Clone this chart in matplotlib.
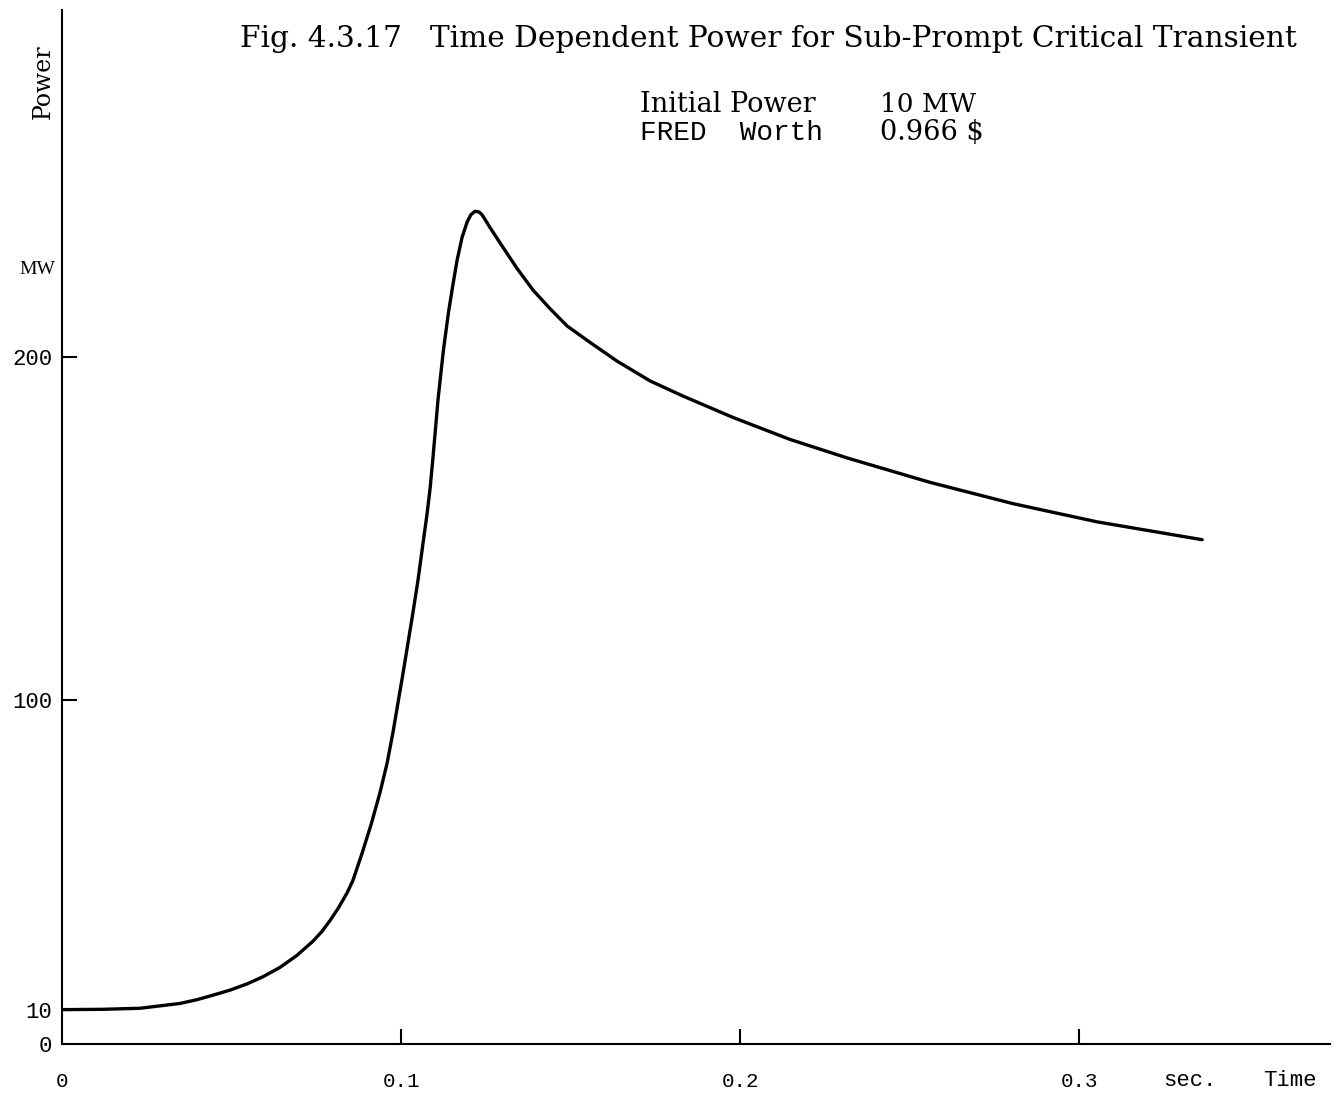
import matplotlib
matplotlib.use("Agg")
import matplotlib.pyplot as plt

# Data (time in s, power in MW)
time_s = [0.0, 0.012, 0.023, 0.0348, 0.0398, 0.0445, 0.0496, 0.0546, 0.0593,
          0.0643, 0.0693, 0.0740, 0.0767, 0.0791, 0.0814, 0.0841, 0.0858,
          0.0885, 0.0912, 0.0938, 0.0959, 0.0976, 0.1006, 0.1035, 0.1050,
          0.1065, 0.1077, 0.1086, 0.1094, 0.1109, 0.1125, 0.1140, 0.1153,
          0.1165, 0.1180, 0.1195, 0.1206, 0.1218, 0.1230, 0.1239, 0.1263,
          0.1292, 0.1342, 0.1389, 0.1440, 0.1490, 0.1558, 0.1637, 0.1735,
          0.1832, 0.1979, 0.2147, 0.2316, 0.2560, 0.2805, 0.3053, 0.3363]
power_mw = [10.0, 10.1, 10.4, 11.8, 12.9, 14.2, 15.7, 17.5, 19.6,
            22.3, 25.8, 29.9, 32.8, 36.0, 39.4, 44.0, 47.6,
            55.5, 64.0, 73.2, 81.8, 90.6, 108.0, 125.5, 135.0,
            145.9, 154.5, 162.0, 170.5, 187.5, 202.0, 213.0, 221.0,
            228.0, 234.8, 239.3, 241.4, 242.4, 242.2, 241.4, 237.6,
            233.2, 225.8, 219.5, 214.0, 209.0, 204.2, 198.8, 193.0,
            188.6, 182.4, 176.0, 170.6, 163.5, 157.3, 152.0, 146.8]

xticks = [0, 0.1, 0.2, 0.3]
xtick_labels = ["0", "0.1", "0.2", "0.3"]
yticks = [0, 10, 100, 200]
ytick_labels = ["0", "10", "100", "200"]

title = "Fig. 4.3.17   Time Dependent Power for Sub-Prompt Critical Transient"

serif = ["DejaVu Serif"]
lserif = ["Liberation Serif", "DejaVu Serif"]
mono = ["Liberation Mono", "DejaVu Sans Mono"]

fig = plt.figure(figsize=(13.44, 10.95), dpi=100)
ax = fig.add_axes([62 / 1344, 1 - 1044 / 1095, (1330 - 62) / 1344, (1044 - 10) / 1095])

ax.plot(time_s, power_mw, color="black", lw=2.4,
        solid_capstyle="round", solid_joinstyle="round")

ax.set_xlim(0, 0.374)
ax.set_ylim(0, 301)

for s in ["top", "right"]:
    ax.spines[s].set_visible(False)
for s in ["left", "bottom"]:
    ax.spines[s].set_linewidth(1.5)

ax.set_xticks(xticks)
ax.set_xticklabels(xtick_labels, fontfamily=mono, fontsize=15)
ax.set_yticks(yticks)
ax.set_yticklabels(ytick_labels, fontfamily=mono, fontsize=16)
ax.tick_params(axis="x", direction="in", length=11, width=1.5, pad=20)
ax.tick_params(axis="y", direction="in", length=11, width=1.5, pad=7)
ax.xaxis.get_major_ticks()[0].tick1line.set_visible(False)
ax.yaxis.get_major_ticks()[0].tick1line.set_visible(False)
ax.yaxis.get_major_ticks()[1].tick1line.set_visible(False)

# Axis annotations
fig.text(1190 / 1344, 1 - 1080 / 1095, "sec.", fontfamily=mono, fontsize=16,
         ha="center", va="center")
fig.text(1290 / 1344, 1 - 1080 / 1095, "Time", fontfamily=mono, fontsize=16,
         ha="center", va="center")
fig.text(43 / 1344, 1 - 82 / 1095, "Power", fontfamily=serif, fontsize=17,
         rotation=90, ha="center", va="center")
fig.text(37 / 1344, 1 - 270 / 1095, "MW", fontfamily=lserif, fontsize=14,
         ha="center", va="center")

# Title and parameter block
fig.text(240 / 1344, 1 - 39 / 1095, title, fontfamily=serif, fontsize=21.3,
         ha="left", va="center")
fig.text(640 / 1344, 1 - 105 / 1095, "Initial Power", fontfamily=serif, fontsize=19.5,
         ha="left", va="center")
fig.text(640 / 1344, 1 - 133 / 1095, "FRED  Worth", fontfamily=mono, fontsize=20,
         ha="left", va="center")
fig.text(880 / 1344, 1 - 105 / 1095, "10 MW", fontfamily=serif, fontsize=19,
         ha="left", va="center")
fig.text(880 / 1344, 1 - 133 / 1095, "0.966 $", fontfamily=serif, fontsize=19.5,
         ha="left", va="center")

fig.savefig("out.png", dpi=100, facecolor="white")
